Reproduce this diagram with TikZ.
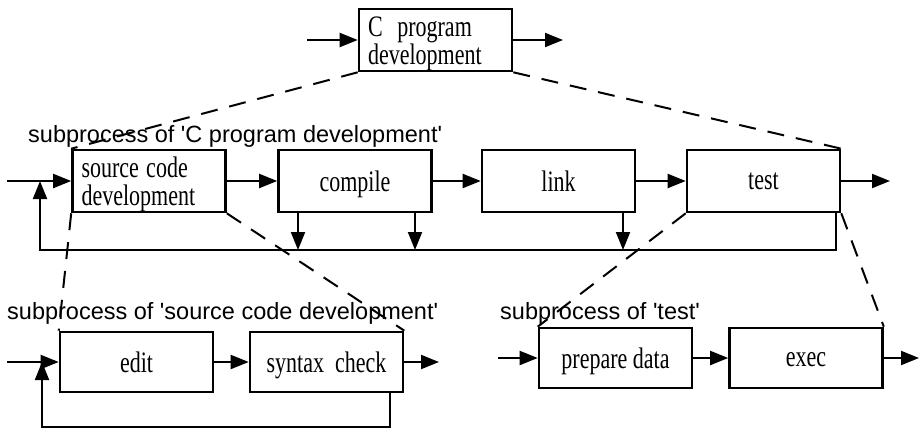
\documentclass[tikz,border=0pt]{standalone}
\usepackage{fontspec}
\usepackage{graphicx}
\setmainfont{Liberation Serif}
\setsansfont{Liberation Sans}
\usetikzlibrary{arrows.meta}
\newcommand{\tall}[1]{\raisebox{-4pt}[\height][\depth]{\scalebox{1}[1.35]{\begin{tabular}{@{}l@{}}#1\end{tabular}}}}
\newcommand{\q}{\textquotesingle}

\begin{document}
\begin{tikzpicture}[x=1pt,y=-1pt,
		proc/.style={draw, line width=2.6pt, minimum width=153pt, minimum height=62pt, inner sep=0pt, font=\fontsize{22}{17.5}\selectfont},
		proctwo/.style={proc, text width=135pt, align=left},
		flow/.style={line width=2pt, -{Triangle[length=18pt,width=14pt]}},
		refine/.style={line width=2pt, dash pattern=on 17pt off 12pt},
		sublabel/.style={font=\sffamily\fontsize{23.5}{26}\selectfont, anchor=base west, inner sep=0pt}]
		\useasboundingbox (0,0) rectangle (920,431);
		
		% top level
		\node[proctwo] (prog) at (435.5,40) {\tall{C\ \ program\\development}};
		\coordinate (progin) at (307,40); \coordinate (progout) at (563,40);
		\draw[flow] (progin) -- (prog.west);
		\draw[flow] (prog.east) -- (progout);
		
		% subprocess of C program development
		\node[sublabel] (lblprog) at (28,142) {subprocess of \q C program development\q};
		\node[proctwo] (src) at (149,181) {\tall{source code\\development}};
		\node[proc] (comp) at (355,181) {\tall{compile}};
		\node[proc] (link) at (558.5,181) {\tall{link}};
		\node[proc] (test) at (763.5,181) {\tall{test}};
		\coordinate (srcin) at (7,181); \coordinate (testout) at (890,181);
		\coordinate (fb) at (40,181); \coordinate (fbL) at (40,250); \coordinate (fbR) at (836,250);
		\draw[flow] (srcin) -- (src.west);
		\draw[flow] (src) -- (comp);
		\draw[flow] (comp) -- (link);
		\draw[flow] (link) -- (test);
		\draw[flow] (test.east) -- (testout);
		\draw[flow] (test.south east -| fbR) -- (fbR) -- (fbL) -- (fb);
		\draw[flow] ([xshift=-57pt]comp.south) -- ([xshift=-57pt]comp.south |- fbL);
		\draw[flow] ([xshift=60pt]comp.south) -- ([xshift=60pt]comp.south |- fbL);
		\draw[flow] ([xshift=64.5pt]link.south) -- ([xshift=64.5pt]link.south |- fbL);
		
		% subprocess of source code development
		\node[sublabel] (lblsrc) at (7,319) {subprocess of \q source code development\q};
		\node[proc, minimum height=60pt] (edit) at (136.5,362) {\tall{edit}};
		\node[proc, minimum height=60pt] (check) at (326.5,362) {\tall{syntax\ \ check}};
		\coordinate (editin) at (7,362); \coordinate (checkout) at (439,362);
		\coordinate (lp) at (42,362); \coordinate (lpL) at (42,427); \coordinate (lpR) at (390,427);
		\draw[flow] (editin) -- (edit.west);
		\draw[flow] (edit) -- (check);
		\draw[flow] (check.east) -- (checkout);
		\draw[flow] (check.south -| lpR) -- (lpR) -- (lpL) -- (lp);
		
		% subprocess of test
		\node[sublabel] (lbltest) at (500,319) {subprocess of \q test\q};
		\node[proc, minimum height=60pt] (prep) at (615.5,358) {\tall{prepare data}};
		\node[proc, minimum height=60pt] (exec) at (806,358) {\tall{exec}};
		\coordinate (prepin) at (498,358); \coordinate (execout) at (919,358);
		\draw[flow] (prepin) -- (prep.west);
		\draw[flow] (prep) -- (exec);
		\draw[flow] (exec.east) -- (execout);
		
		% refinement lines
		\draw[refine] (prog.south west) -- (src.north west);
		\draw[refine] (prog.south east) -- (test.north east);
		\draw[refine] (src.south west) -- (edit.north west);
		\draw[refine] (src.south east) -- (check.north east);
		\draw[refine] (test.south west) -- (prep.north west);
		\draw[refine] (test.south east) -- (exec.north east);
\end{tikzpicture}
\end{document}
